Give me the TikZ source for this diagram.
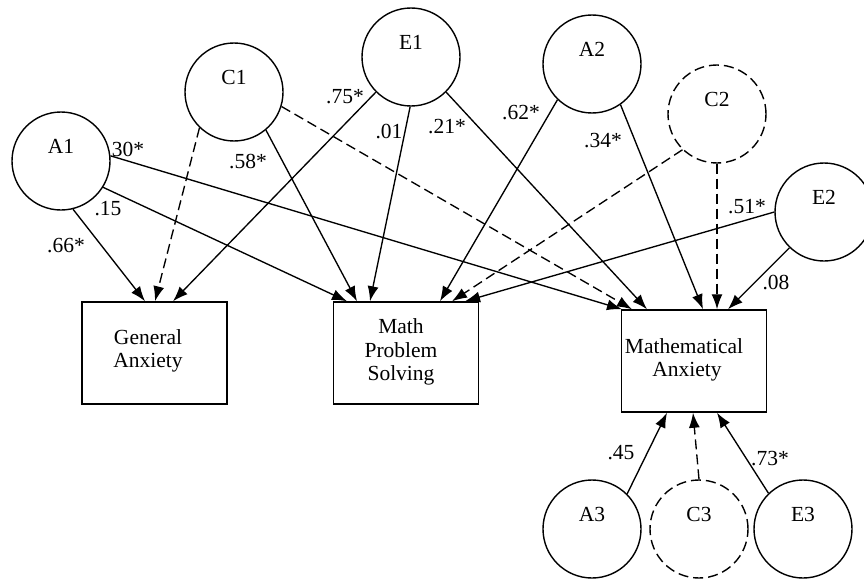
\documentclass[tikz,border=0pt]{standalone}
\usepackage{fontspec}
\setmainfont{Liberation Serif}
\usetikzlibrary{arrows.meta}
\begin{document}
\begin{tikzpicture}[x=1pt,y=-1pt,
  lat/.style={circle, draw, line width=1.4pt, minimum size=98pt, inner sep=0pt},
  latd/.style={lat, dash pattern=on 10pt off 5pt},
  obs/.style={rectangle, draw, line width=1.5pt, minimum width=145pt, minimum height=102pt, inner sep=0pt},
  txt/.style={font=\fontsize{21.5}{23.5}\selectfont, align=center, inner sep=0pt},
  coef/.style={font=\fontsize{21.5}{24}\selectfont, inner sep=0pt},
  arr/.style={line width=1.35pt, -{Latex[length=15pt,width=11pt]}},
  darr/.style={arr, dash pattern=on 10pt off 5pt},
  ltxt/.style={font=\fontsize{21.5}{24}\selectfont, yshift=15pt},
]
\useasboundingbox (0,0) rectangle (864,578);
% latent variables
\node[lat, label={[ltxt]center:A1}] (a1) at (61,161) {};
\node[lat, label={[ltxt]center:C1}] (c1) at (234,92) {};
\node[lat, label={[ltxt]center:E1}] (e1) at (411,57) {};
\node[lat, label={[ltxt]center:A2}] (a2) at (592,64) {};
\node[latd, label={[ltxt]center:C2}] (c2) at (717,114) {};
\node[lat, label={[ltxt]center:E2}] (e2) at (824,212) {};
\node[lat, label={[ltxt]center:A3}] (a3) at (592,529) {};
\node[latd, label={[ltxt]center:C3}] (c3) at (699,529) {};
\node[lat, label={[ltxt]center:E3}] (e3) at (803,529) {};
% observed
\node[obs] (ga) at (154.5,353) {};
\node[obs] (mps) at (406,353) {};
\node[obs] (ma) at (694,361) {};
\node[txt] (gatext) at (148,351) {General\\Anxiety};
\node[txt] (mpstext) at (401,352) {Math\\Problem\\Solving};
\node[txt] (matext) at (684,360) {Mathematical\\\hspace*{6pt}Anxiety};
% paths A1
\draw[arr] (a1.-76) -- ([xshift=-9.5pt]ga.north);
\draw[arr] (a1.-32) -- ([xshift=-59pt]mps.north);
\draw[arr] (a1.6) -- ([xshift=-72pt]ma.north);
% C1
\draw[darr] (c1.-134) -- ([xshift=0.5pt]ga.north);
\draw[arr] (c1.-50) -- ([xshift=-49pt]mps.north);
\draw[darr] (c1.-17) -- ([xshift=-62pt]ma.north);
% E1
\draw[arr] (e1.-135) -- ([xshift=18.5pt]ga.north);
\draw[arr] (e1.-91) -- ([xshift=-36pt]mps.north);
\draw[arr] (e1.-45) -- ([xshift=-47pt]ma.north);
% A2
\draw[arr] (a2.-134) -- ([xshift=34pt]mps.north);
\draw[arr] (a2.-55) -- ([xshift=9pt]ma.north);
% C2
\draw[darr] (c2.-134) -- ([xshift=46pt]mps.north);
\draw[darr] (c2.-90) -- ([xshift=23pt]ma.north);
% E2
\draw[arr] (e2.180) -- ([xshift=59pt]mps.north);
\draw[arr] (e2.-134) -- ([xshift=34pt]ma.north);
% level 3
\draw[arr] (a3.45) -- ([xshift=-27pt]ma.south);
\draw[darr] (c3.90) -- ([xshift=-1pt]ma.south);
\draw[arr] (e3.134) -- ([xshift=23pt]ma.south);
% coefficients
\node[coef] (l1) at (128,149) {30*};
\node[coef] (l2) at (108,209) {.15};
\node[coef] (l3) at (66,246) {.66*};
\node[coef] (l4) at (248,162) {.58*};
\node[coef] (l5) at (345,97) {.75*};
\node[coef] (l6) at (389,132) {.01};
\node[coef] (l7) at (447,127) {.21*};
\node[coef] (l8) at (521,113) {.62*};
\node[coef] (l9) at (603,141) {.34*};
\node[coef] (l10) at (747,207) {.51*};
\node[coef] (l11) at (776,282) {.08};
\node[coef] (l12) at (621,453) {.45};
\node[coef] (l13) at (770,459) {.73*};
\end{tikzpicture}
\end{document}
